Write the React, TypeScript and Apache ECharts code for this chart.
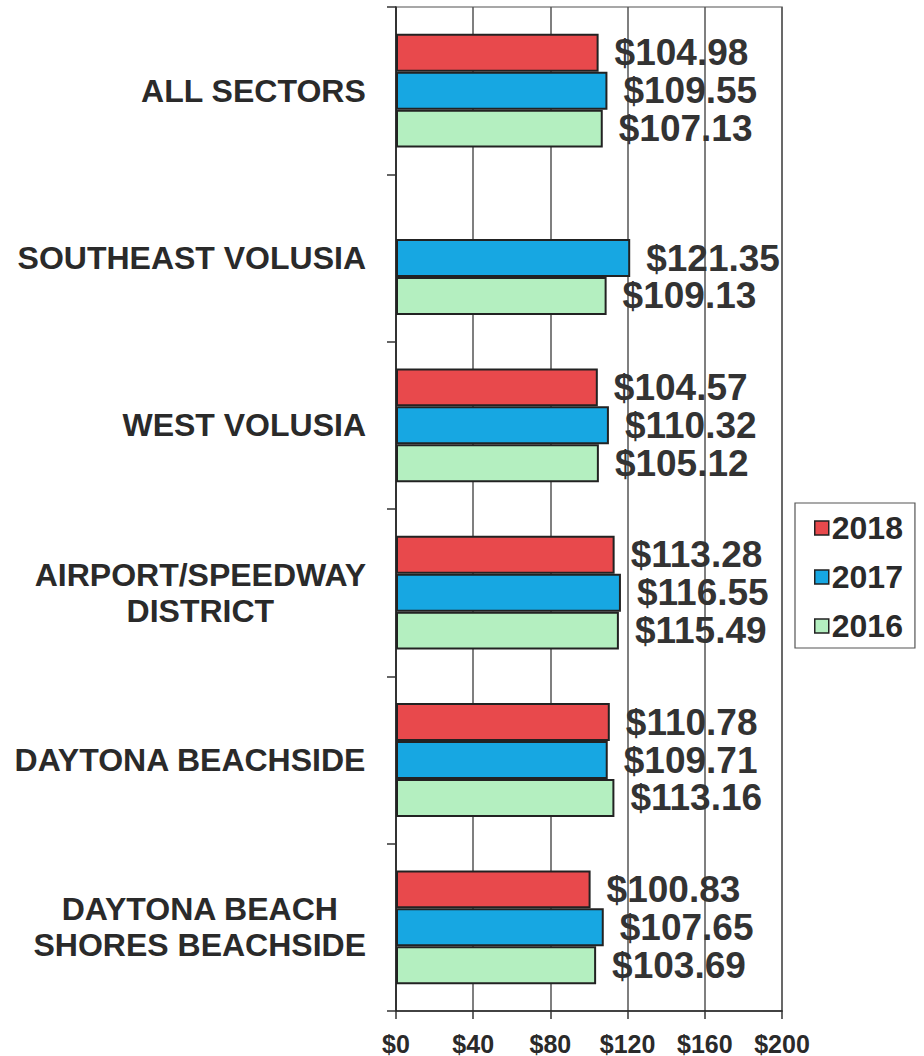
import React, { useEffect, useRef } from "react";
import * as echarts from "echarts";

const categories = [
  "ALL SECTORS",
  "SOUTHEAST VOLUSIA",
  "WEST VOLUSIA",
  "AIRPORT/SPEEDWAY\nDISTRICT",
  "DAYTONA BEACHSIDE",
  "DAYTONA BEACH\nSHORES BEACHSIDE",
];
const values2018: (number | null)[] = [104.98, null, 104.57, 113.28, 110.78, 100.83];
const values2017: number[] = [109.55, 121.35, 110.32, 116.55, 109.71, 107.65];
const values2016: number[] = [107.13, 109.13, 105.12, 115.49, 113.16, 103.69];
const seriesNames = ["2018", "2017", "2016"];
const seriesColors = ["#e8494c", "#17a7e2", "#b4efc0"];

const FONT = "'Liberation Sans', Arial, sans-serif";

export default function App() {
  const ref = useRef<HTMLDivElement>(null);
  useEffect(() => {
    if (!ref.current) return;
    const chart = echarts.init(ref.current, undefined, { renderer: "svg" });
    const dataSets = [values2018, values2017, values2016];
    chart.setOption({
      animation: false,
      backgroundColor: "#ffffff",
      textStyle: { fontFamily: FONT },
      grid: {
        left: 396,
        right: 142,
        top: 7,
        bottom: 44,
        show: true,
        borderColor: "#8a8a8a",
        borderWidth: 1.5,
      },
      legend: {
        orient: "vertical",
        left: 795,
        top: 503,
        data: seriesNames,
        itemWidth: 14,
        itemHeight: 14,
        itemGap: 17,
        padding: [9, 12, 6, 19],
        borderColor: "#555",
        borderWidth: 1.2,
        icon: "rect",
        itemStyle: { borderColor: "#222", borderWidth: 1.5 },
        textStyle: {
          fontFamily: FONT,
          fontWeight: "bold",
          fontSize: 32,
          color: "#2a2a2a",
          padding: [0, 0, 0, -2],
        },
      },
      xAxis: {
        type: "value",
        min: 0,
        max: 200,
        interval: 40,
        axisLine: { show: true, lineStyle: { color: "#222", width: 1.5 } },
        axisTick: { show: true, length: 8, lineStyle: { color: "#333", width: 1.5 } },
        splitLine: { show: true, lineStyle: { color: "#555", width: 1.5 } },
        axisLabel: {
          formatter: (v: number) => "$" + v,
          fontFamily: FONT,
          fontWeight: "bold",
          fontSize: 25,
          color: "#2a2a2a",
          margin: 20,
        },
      },
      yAxis: {
        type: "category",
        inverse: true,
        data: categories,
        axisLine: { show: true, lineStyle: { color: "#222", width: 1.5 } },
        axisTick: { show: true, length: 9, lineStyle: { color: "#333", width: 1.5 } },
        splitLine: { show: false },
        axisLabel: {
          margin: 30,
          align: "right",
          formatter: (v: string) =>
            v
              .split("\n")
              .map((s) => "{c|" + s + "}")
              .join("\n"),
          rich: {
            c: {
              align: "center",
              fontFamily: FONT,
              fontWeight: "bold",
              fontSize: 32,
              lineHeight: 36,
              color: "#2a2a2a",
            },
          },
        },
      },
      series: seriesNames.map((name, i) => ({
        name,
        type: "bar",
        data: dataSets[i],
        barGap: "0%",
        barCategoryGap: "32%",
        itemStyle: { color: seriesColors[i], borderColor: "#222", borderWidth: 2 },
        label: {
          show: true,
          position: "right",
          distance: 16,
          formatter: (p: any) => "$" + Number(p.value).toFixed(2),
          fontFamily: FONT,
          fontWeight: "bold",
          fontSize: 37,
          color: "#333",
        },
      })),
    });
    return () => chart.dispose();
  }, []);
  return (
    <div
      ref={ref}
      style={{ position: "fixed", left: 0, top: 0, width: 924, height: 1056, background: "#fff" }}
    />
  );
}
